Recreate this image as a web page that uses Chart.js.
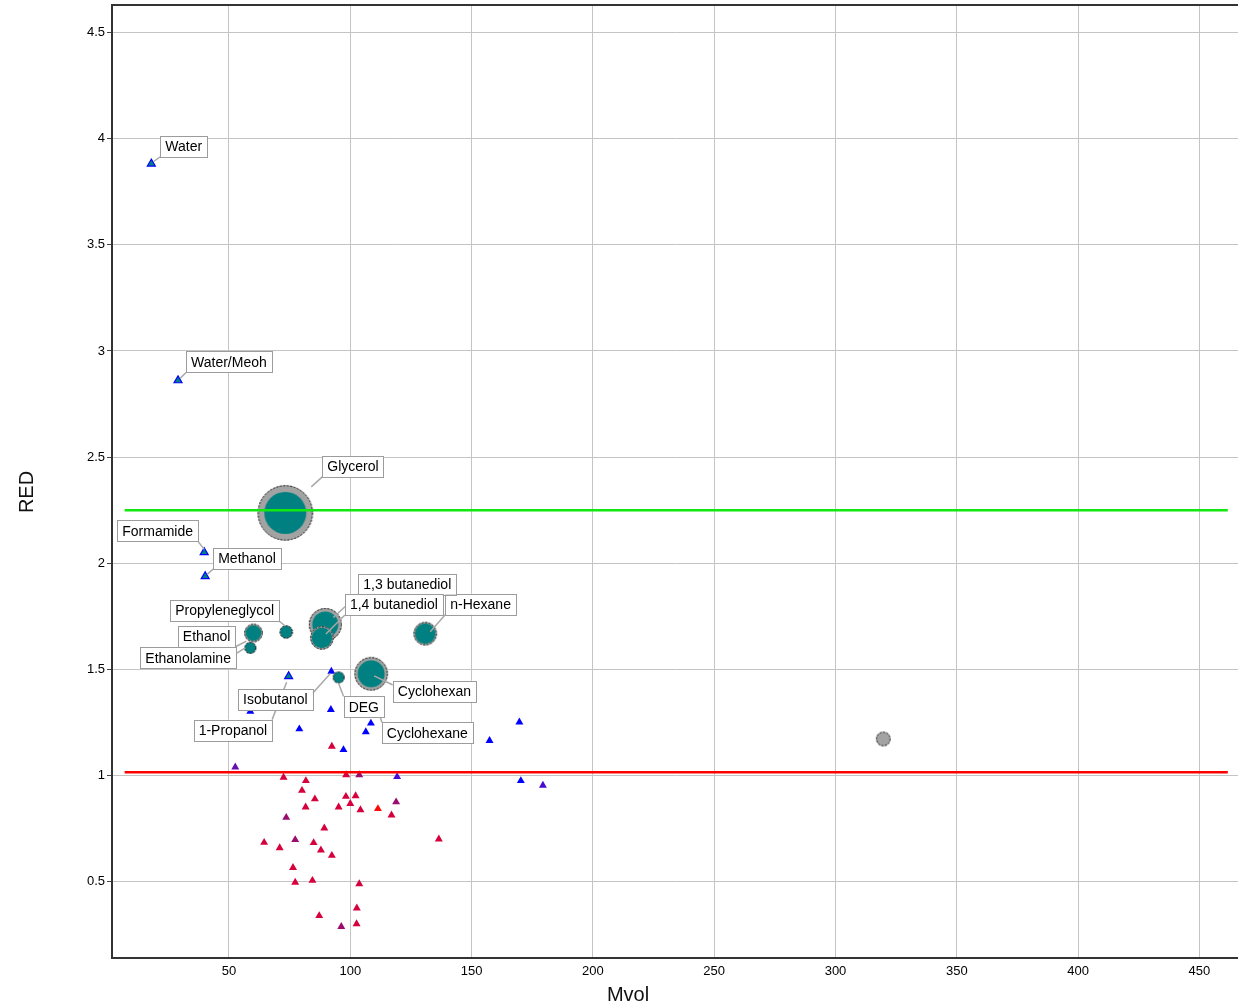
<!DOCTYPE html>
<html><head><meta charset="utf-8">
<script src="https://cdn.jsdelivr.net/npm/chart.js@4.4.1/dist/chart.umd.min.js"></script>
<style>html,body{margin:0;padding:0;background:#fff;} canvas{display:block;}</style>
</head><body>
<canvas id="c" width="1238" height="1006"></canvas>
<script>
// ---------------- data ----------------
const xTicks = [50, 100, 150, 200, 250, 300, 350, 400, 450];
const yTicks = [0.5, 1, 1.5, 2, 2.5, 3, 3.5, 4, 4.5];
const xAxisTitle = 'Mvol';
const yAxisTitle = 'RED';

// Reference levels
const greenLevel = 2.25;
const redLevel = 1.015;
const levelFrom = 7;
const levelTo = 461.7;

// Solvents drawn as bubbles
const bubbleNames = ['Glycerol', 'Propyleneglycol', 'Ethanol', 'Ethanolamine', '1,3 butanediol', '1,4 butanediol', 'n-Hexane', 'DEG', 'Cyclohexan'];
const bubbleMvol  = [73.2, 73.6, 60.1, 58.8, 89.7, 88.3, 130.9, 95.2, 108.6];
const bubbleRED   = [2.237, 1.676, 1.671, 1.601, 1.711, 1.648, 1.668, 1.462, 1.479];
const bubbleOuter = [27.7, 6.7, 9.3, 6.0, 16.5, 11.7, 11.7, 6.0, 16.7];
const bubbleInner = [21.0, 6.0, 7.8, 5.4, 13.0, 10.2, 10.2, 5.4, 13.5];

// Grey outlier
const greyMvol = [319.7];
const greyRED  = [1.172];
const greySize = [7.3];

// Labelled single solvents (blue/teal triangles)
const solventNames = ['Water', 'Water/Meoh', 'Formamide', 'Methanol', '1-Propanol'];
const solventMvol  = [18.0, 29.0, 39.8, 40.2, 74.6];
const solventRED   = [3.882, 2.861, 2.051, 1.938, 1.467];

// Blue triangles
const blueNames = ['Isobutanol', '', '', '', '', '', '', '', '', '', ''];
const blueMvol  = [92.2, 58.8, 92.0, 79.0, 108.5, 106.4, 97.2, 169.7, 157.4, 170.3, 104.1];
const blueRED   = [1.490, 1.302, 1.310, 1.219, 1.246, 1.205, 1.121, 1.251, 1.164, 0.975, 1.352];

// Blue-violet triangles
const indigoMvol = [119.3, 179.4];
const indigoRED  = [0.994, 0.953];

// Violet triangle
const violetMvol = [52.6];
const violetRED  = [1.039];

// Purple triangles
const purpleMvol = [103.7, 118.9, 73.6, 77.3, 96.3];
const purpleRED  = [1.003, 0.875, 0.802, 0.697, 0.288];

// Crimson triangles
const crimsonMvol = [92.4, 72.5, 98.3, 81.7, 80.1, 85.4, 98.2, 102.2, 100.0, 81.6, 95.2, 104.2, 117.0, 89.3, 64.5, 84.9, 70.9, 87.9, 92.4, 136.5, 76.4, 77.3, 84.4, 103.7, 102.7, 87.2, 102.6];
const crimsonRED  = [1.137, 0.991, 1.003, 0.975, 0.929, 0.889, 0.901, 0.904, 0.867, 0.851, 0.851, 0.838, 0.813, 0.752, 0.684, 0.683, 0.659, 0.648, 0.623, 0.700, 0.566, 0.496, 0.505, 0.489, 0.375, 0.339, 0.301];

// Red triangle
const redMvol = [111.4];
const redRED  = [0.843];

// ---------------- helpers ----------------
const pts = (xs, ys) => xs.map((x, i) => ({x: x, y: ys[i]}));

function bubbleImage(outer, inner) {
  const size = Math.ceil(outer * 2 + 4);
  const c = document.createElement('canvas');
  c.width = size; c.height = size;
  const g = c.getContext('2d');
  const m = size / 2;
  g.beginPath(); g.arc(m, m, outer, 0, 2 * Math.PI); g.fillStyle = '#a3a3a3'; g.fill();
  if (inner) { g.beginPath(); g.arc(m, m, inner, 0, 2 * Math.PI); g.fillStyle = '#008080'; g.fill(); }
  g.beginPath(); g.arc(m, m, outer - 0.5, 0, 2 * Math.PI);
  g.setLineDash([2, 1.5]); g.strokeStyle = '#1a1a1a'; g.lineWidth = 1; g.stroke();
  return c;
}
const bubbleImages = bubbleOuter.map((o, i) => bubbleImage(o, bubbleInner[i]));
const greyImages = greySize.map(o => bubbleImage(o, 0));

function triSet(label, xs, ys, color, names) {
  return {
    type: 'scatter', label: label, data: pts(xs, ys), names: names || [],
    pointStyle: 'triangle', pointRadius: 4.6, pointHoverRadius: 4.6,
    backgroundColor: color, borderColor: color, borderWidth: 0, order: 2
  };
}
function levelSet(label, level, color) {
  return {
    type: 'line', label: label, data: [{x: levelFrom, y: level}, {x: levelTo, y: level}],
    borderColor: color, borderWidth: 2.5, pointRadius: 0, fill: false, order: 0
  };
}

const datasets = [
  levelSet('green level', greenLevel, '#10e810'),
  levelSet('red level', redLevel, '#ff0000'),
  {
    type: 'bubble', label: 'solvents', names: bubbleNames,
    data: bubbleMvol.map((x, i) => ({x: x, y: bubbleRED[i], r: bubbleOuter[i]})),
    pointStyle: ctx => bubbleImages[ctx.dataIndex], order: 1,
    backgroundColor: '#008080', borderColor: '#1a1a1a'
  },
  {
    type: 'bubble', label: 'grey', names: [],
    data: greyMvol.map((x, i) => ({x: x, y: greyRED[i], r: greySize[i]})),
    pointStyle: ctx => greyImages[ctx.dataIndex], order: 1,
    backgroundColor: '#a3a3a3', borderColor: '#1a1a1a'
  },
  Object.assign(triSet('single solvents', solventMvol, solventRED, '#008080', solventNames),
    {borderColor: '#0000ff', borderWidth: 1.2}),
  triSet('blue', blueMvol, blueRED, '#0000ff', blueNames),
  triSet('indigo', indigoMvol, indigoRED, '#4a0ad2'),
  triSet('violet', violetMvol, violetRED, '#6610b0'),
  triSet('purple', purpleMvol, purpleRED, '#9a0c6e'),
  triSet('crimson', crimsonMvol, crimsonRED, '#d6003c'),
  triSet('red', redMvol, redRED, '#ff0a0a')
];

// Label boxes: box offset (dx,dy) from the point, leader from box anchor (ax,ay) to point offset (tx,ty)
const labelLayout = [
  {name: 'Water', dx: 9, dy: -28, ax: 0, ay: 1, tx: 2, ty: -2},
  {name: 'Water/Meoh', dx: 8, dy: -29, ax: 0, ay: 1, tx: 2, ty: -2},
  {name: 'Glycerol', dx: 37, dy: -57, ax: 0, ay: 1, tx: 26, ty: -26},
  {name: 'Formamide', dx: -87, dy: -32, ax: 1, ay: 1, tx: 0, ty: -3},
  {name: 'Methanol', dx: 8, dy: -28.4, ax: 0, ay: 1, tx: 2, ty: -2},
  {name: 'n-Hexane', dx: 20, dy: -40, ax: 0, ay: 1, tx: 5, ty: -2},
  {name: '1,3 butanediol', dx: 33, dy: -51, ax: 0, ay: 1, tx: 8, ty: -7},
  {name: '1,4 butanediol', dx: 23, dy: -44, ax: 0, ay: 1, tx: 4, ty: -4},
  {name: 'Propyleneglycol', dx: -116, dy: -32, ax: 1, ay: 1, tx: -1, ty: -6},
  {name: 'Ethanol', dx: -75.6, dy: -7.3, ax: 1, ay: 1, tx: -7, ty: 8},
  {name: 'Ethanolamine', dx: -110, dy: -0.6, ax: 1, ay: 0.3, tx: -5, ty: 0},
  {name: 'Isobutanol', dx: -93.3, dy: 17.6, ax: 1, ay: 0.2, tx: -1, ty: 2},
  {name: '1-Propanol', dx: -95, dy: 43.3, ax: 1, ay: 0, tx: -2, ty: 6},
  {name: 'DEG', dx: 5, dy: 19, ax: 0, ay: 0, tx: 0, ty: 6},
  {name: 'Cyclohexan', dx: 21.7, dy: 7, ax: 0, ay: 0.2, tx: 3, ty: 2},
  {name: 'Cyclohexane', anchorTo: 'Cyclohexan', dx: 10.7, dy: 48.7, ax: 0, ay: 0, tx: 5, ty: 28}
];

const FONT = "'Liberation Sans', Arial, sans-serif";
Chart.defaults.font.family = FONT;
Chart.defaults.color = '#000';

const labelPlugin = {
  id: 'solventLabels',
  afterDatasetsDraw(chart) {
    const ctx = chart.ctx;
    const find = name => {
      for (let d = 0; d < chart.data.datasets.length; d++) {
        const names = chart.data.datasets[d].names || [];
        const i = names.indexOf(name);
        if (i >= 0) { const el = chart.getDatasetMeta(d).data[i]; return {x: el.x, y: el.y}; }
      }
      return null;
    };
    ctx.save();
    ctx.font = '14px ' + FONT;
    const boxes = labelLayout.map(l => {
      const p = find(l.anchorTo || l.name);
      const w = ctx.measureText(l.name).width + 10;
      const h = 21;
      return {l, p, x: p.x + l.dx, y: p.y + l.dy, w, h};
    });
    // leader lines
    ctx.strokeStyle = '#a8a8a8'; ctx.lineWidth = 1.5;
    boxes.forEach(b => {
      ctx.beginPath();
      ctx.moveTo(b.x + b.l.ax * b.w, b.y + b.l.ay * b.h);
      ctx.lineTo(b.p.x + b.l.tx, b.p.y + b.l.ty);
      ctx.stroke();
    });
    // boxes
    boxes.forEach(b => {
      ctx.fillStyle = '#fff';
      ctx.fillRect(b.x, b.y, b.w, b.h);
      ctx.strokeStyle = '#9c9c9c'; ctx.lineWidth = 1;
      ctx.strokeRect(Math.round(b.x) + 0.5, Math.round(b.y) + 0.5, Math.round(b.w), b.h);
      ctx.fillStyle = '#000'; ctx.textBaseline = 'middle'; ctx.textAlign = 'left';
      ctx.fillText(b.l.name, b.x + 5, b.y + b.h / 2 + 1);
    });
    ctx.restore();
  }
};

const framePlugin = {
  id: 'frame',
  afterDraw(chart) {
    const {ctx, chartArea: a} = chart;
    ctx.save();
    ctx.strokeStyle = '#333'; ctx.lineWidth = 2;
    ctx.beginPath(); ctx.moveTo(a.left, a.top); ctx.lineTo(a.right, a.top); ctx.stroke();
    // axis titles
    ctx.fillStyle = '#111';
    ctx.font = '20px ' + FONT;
    ctx.textAlign = 'center'; ctx.textBaseline = 'middle';
    ctx.fillText(chart.options.scales.x.title.text, 628, 995);
    ctx.translate(27, 492); ctx.rotate(-Math.PI / 2);
    ctx.fillText(chart.options.scales.y.title.text, 0, 0);
    ctx.restore();
  }
};

const noPad = s => { s.paddingTop = 0; s.paddingBottom = 0; s.paddingLeft = 0; s.paddingRight = 0; };

new Chart(document.getElementById('c'), {
  type: 'scatter',
  data: {datasets: datasets},
  options: {
    responsive: false, animation: false,
    layout: {autoPadding: false, padding: {top: 5, right: 0, left: 0, bottom: 0}},
    plugins: {legend: {display: false}, tooltip: {enabled: false}},
    scales: {
      x: {
        type: 'linear', min: 1.79, max: 465.9,
        title: {display: false, text: xAxisTitle},
        afterBuildTicks: s => { s.ticks = xTicks.map(v => ({value: v})); },
        afterFit: s => { s.height = 48; noPad(s); },
        ticks: {font: {size: 13}, color: '#000', padding: 6, callback: v => String(v), maxRotation: 0},
        grid: {color: '#c4c4c4', lineWidth: 1, drawTicks: false},
        border: {color: '#333', width: 2}
      },
      y: {
        type: 'linear', min: 0.14, max: 4.63,
        title: {display: false, text: yAxisTitle},
        afterBuildTicks: s => { s.ticks = yTicks.map(v => ({value: v})); },
        afterFit: s => { s.width = 112; noPad(s); },
        ticks: {font: {size: 13}, color: '#000', padding: 2, callback: v => String(v)},
        grid: {color: '#c4c4c4', lineWidth: 1, drawTicks: true, tickLength: 5, tickColor: '#444'},
        border: {color: '#333', width: 2}
      }
    }
  },
  plugins: [labelPlugin, framePlugin]
});
</script>
</body></html>
